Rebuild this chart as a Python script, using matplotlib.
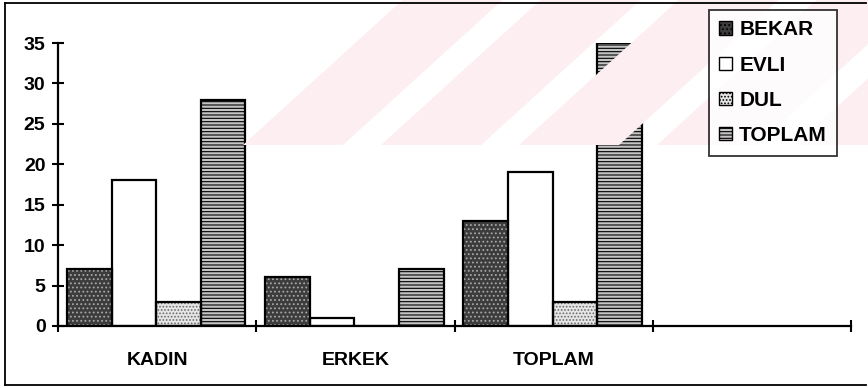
import numpy as np
import matplotlib
matplotlib.use('Agg')
import matplotlib.pyplot as plt
from matplotlib.patches import Patch, Polygon, Rectangle
from matplotlib.lines import Line2D

# medeni durum dagilimi
groups = ['KADIN', 'ERKEK', 'TOPLAM']
series = ['BEKAR', 'EVLI', 'DUL', 'TOPLAM']
bekar = [7, 6, 13]
evli = [18, 1, 19]
dul = [3, 0, 3]
toplam = [28, 7, 35]
yticks = [0, 5, 10, 15, 20, 25, 30, 35]

n_slots = 4          # the axis keeps one empty slot on the right
# face, hatch, hatch colour
styles = [('#3c3c3c', '....', '#a8a8a8'),
          ('white', None, 'black'),
          ('#e6e6e6', '.....', '#6a6a6a'),
          ('#c4c4c4', '-----', 'black')]

plt.rcParams['font.family'] = ['Liberation Sans', 'DejaVu Sans']
plt.rcParams['font.weight'] = 'bold'
plt.rcParams['hatch.linewidth'] = 0.8

W, H = 868, 388
fig = plt.figure(figsize=(W / 100, H / 100), dpi=100)

def px(x, y):
    return (x / W, 1 - y / H)

# faint diagonal band behind the chart
stripe_w, gap, slope, band_y = 100, 38, 1.1, 145
clip = Rectangle(px(243, band_y), (W - 243) / W, band_y / H,
                 transform=fig.transFigure)
x0 = 243
while x0 < W:
    pts = [px(x0, band_y), px(x0 + stripe_w, band_y),
           px(x0 + stripe_w + slope * band_y, 0), px(x0 + slope * band_y, 0)]
    p = Polygon(pts, closed=True, transform=fig.transFigure,
                facecolor='#fdeef1', edgecolor='none', zorder=0)
    p.set_clip_path(clip)
    fig.patches.append(p)
    x0 += stripe_w + gap

# outer frame
for xs, ys in [((5, 866), (3, 3)), ((5, 5), (3, 385)), ((5, 866), (385, 385))]:
    a, b = px(xs[0], ys[0]), px(xs[1], ys[1])
    fig.lines.append(Line2D([a[0], b[0]], [a[1], b[1]], transform=fig.transFigure,
                            color='black', lw=1.3))

ax = fig.add_axes([58 / W, 62 / H, (851 - 58) / W, (326 - 43) / H])
ax.patch.set_visible(False)

values = [bekar, evli, dul, toplam]
bw = 0.225
start = 0.045
xc = np.arange(len(groups))
for k, (vals, (face, hatch, hc)) in enumerate(zip(values, styles)):
    x = xc + start + bw * (k + 0.5)
    ax.bar(x, vals, bw, color=face, edgecolor=hc, hatch=hatch, linewidth=0, zorder=2)
    ax.bar(x, vals, bw, fill=False, edgecolor='black', linewidth=1.6, zorder=3)

ax.set_xlim(0, n_slots)
ax.set_ylim(0, 35)
for s in ['top', 'right']:
    ax.spines[s].set_visible(False)
for s in ['left', 'bottom']:
    ax.spines[s].set_linewidth(1.6)
    ax.spines[s].set_zorder(4)

ax.set_yticks(yticks)
ax.set_yticklabels([str(v) for v in yticks], fontsize=14, fontweight='bold')
ax.tick_params(axis='y', direction='inout', length=8, width=1.5, pad=5)

ax.set_xticks(range(n_slots + 1))
ax.set_xticklabels([])
ax.tick_params(axis='x', which='major', direction='inout', length=8, width=1.5)
ax.set_xticks(xc + 0.5, minor=True)
ax.set_xticklabels(groups, minor=True, fontsize=14, fontweight='bold')
ax.tick_params(axis='x', which='minor', length=0, pad=19)

handles = [Patch(facecolor=f, edgecolor='black', hatch=h, linewidth=1.0)
           for f, h, _ in styles]
leg = fig.legend(handles, series, loc='upper left', bbox_to_anchor=px(709, 10),
                 frameon=True, fancybox=False, shadow=False,
                 prop={'size': 15, 'weight': 'bold'},
                 handlelength=0.6, handleheight=0.6, handletextpad=0.35,
                 labelspacing=0.78, borderpad=0.5, borderaxespad=0)
leg.get_frame().set_edgecolor('black')
leg.get_frame().set_linewidth(1.3)

fig.savefig('out.png', dpi=100)
